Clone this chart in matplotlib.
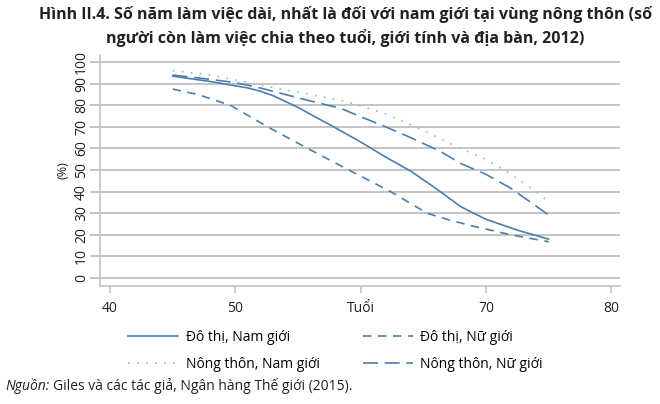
import matplotlib.pyplot as plt
import matplotlib as mpl

mpl.rcParams['font.family'] = ['Open Sans', 'DejaVu Sans']

# dữ liệu
tuoi_dtnam = [45, 48, 51, 52, 53, 55, 58, 60, 62, 64, 66, 68, 70, 72.5, 75]
dt_nam = [93.5, 91, 88, 86.5, 84.5, 79, 69.5, 63, 56, 49.5, 41.5, 33, 27.2, 22.2, 18]

tuoi_dtnu = [45, 47, 49.6, 52.8, 56, 58.8, 62.4, 65.3, 67, 69, 72, 75]
dt_nu = [87.5, 85, 80, 69.3, 59.3, 50.8, 40, 30, 27, 24, 20, 16.8]

tuoi_ntnam = [45, 48, 52, 56, 59, 62, 64, 66, 68, 70, 72, 74, 75]
nt_nam = [96, 94, 89.4, 85, 81.5, 76, 71, 65.5, 60, 55, 48, 40, 35.3]

tuoi_ntnu = [45, 48, 50, 52, 55.7, 58.4, 60, 62, 64, 66.4, 68, 70, 72, 75]
nt_nu = [94, 92, 90.5, 88, 82.4, 78.6, 74.7, 70, 65, 58.5, 53, 48, 41.5, 29.2]

xticks = [40, 50, 60, 70, 80]
xlabels = ['40', '50', 'Tuổi', '70', '80']
yticks = list(range(0, 101, 10))

blue = '#4a7eae'
grey = '#c4c4c4'

fig = plt.figure(figsize=(6.6, 4.04), dpi=100)
ax = fig.add_axes([0.1515, 0.292, 0.788, 0.572])

l1, = ax.plot(tuoi_dtnam, dt_nam, color=blue, lw=1.2, label='Đô thị, Nam giới')
l2, = ax.plot(tuoi_dtnu, dt_nu, color=blue, lw=1.2, dashes=(5, 4), label='Đô thị, Nữ giới')
l3, = ax.plot(tuoi_ntnam, nt_nam, color='#9dbfdc', lw=1.3, dashes=(1, 4), label='Nông thôn, Nam giới')
l4, = ax.plot(tuoi_ntnu, nt_nu, color=blue, lw=1.2, dashes=(9, 4), label='Nông thôn, Nữ giới')

ax.set_xlim(39.2, 80.7)
ax.set_ylim(-3.7, 103.3)
ax.set_xticks(xticks)
ax.set_xticklabels(xlabels)
ax.set_yticks(yticks)
ax.grid(axis='y', color=grey, lw=1.4)
ax.set_axisbelow(True)
for s in ['top', 'right']:
    ax.spines[s].set_visible(False)
for s in ['left', 'bottom']:
    ax.spines[s].set_color(grey)
    ax.spines[s].set_linewidth(1.2)
ax.tick_params(axis='both', colors=grey, labelcolor='#222222', labelsize=10)
ax.tick_params(axis='y', length=7, width=1.4, pad=1)
ax.tick_params(axis='x', length=5, width=1.2, pad=6)
plt.setp(ax.get_yticklabels(), rotation=90, va='center')
ax.set_ylabel('(%)', fontsize=9, labelpad=3, color='#222222')

fig.legend(handles=[l1, l3, l2, l4], loc='upper left', bbox_to_anchor=(0.194, 0.183),
           ncol=2, frameon=False, fontsize=10, handlelength=3.6, handletextpad=0.55,
           columnspacing=3.1, labelspacing=0.85, borderpad=0, borderaxespad=0)

fig.text(0.523, 0.985, 'Hình II.4. Số năm làm việc dài, nhất là đối với nam giới tại vùng nông thôn (số\n'
         'người còn làm việc chia theo tuổi, giới tính và địa bàn, 2012)',
         ha='center', va='top', fontsize=11.5, fontweight='bold', linespacing=1.45,
         family=['Liberation Sans Narrow', 'Open Sans', 'DejaVu Sans'], color='#222222')

t = fig.text(0.008, 0.035, 'Nguồn:', fontsize=10, style='italic', color='#222222')
fig.canvas.draw()
bb = t.get_window_extent()
fig.text((bb.x1 + 3) / fig.bbox.width, 0.035, 'Giles và các tác giả, Ngân hàng Thế giới (2015).',
         fontsize=10, color='#222222')

plt.savefig('out.png', dpi=100)
plt.close()
